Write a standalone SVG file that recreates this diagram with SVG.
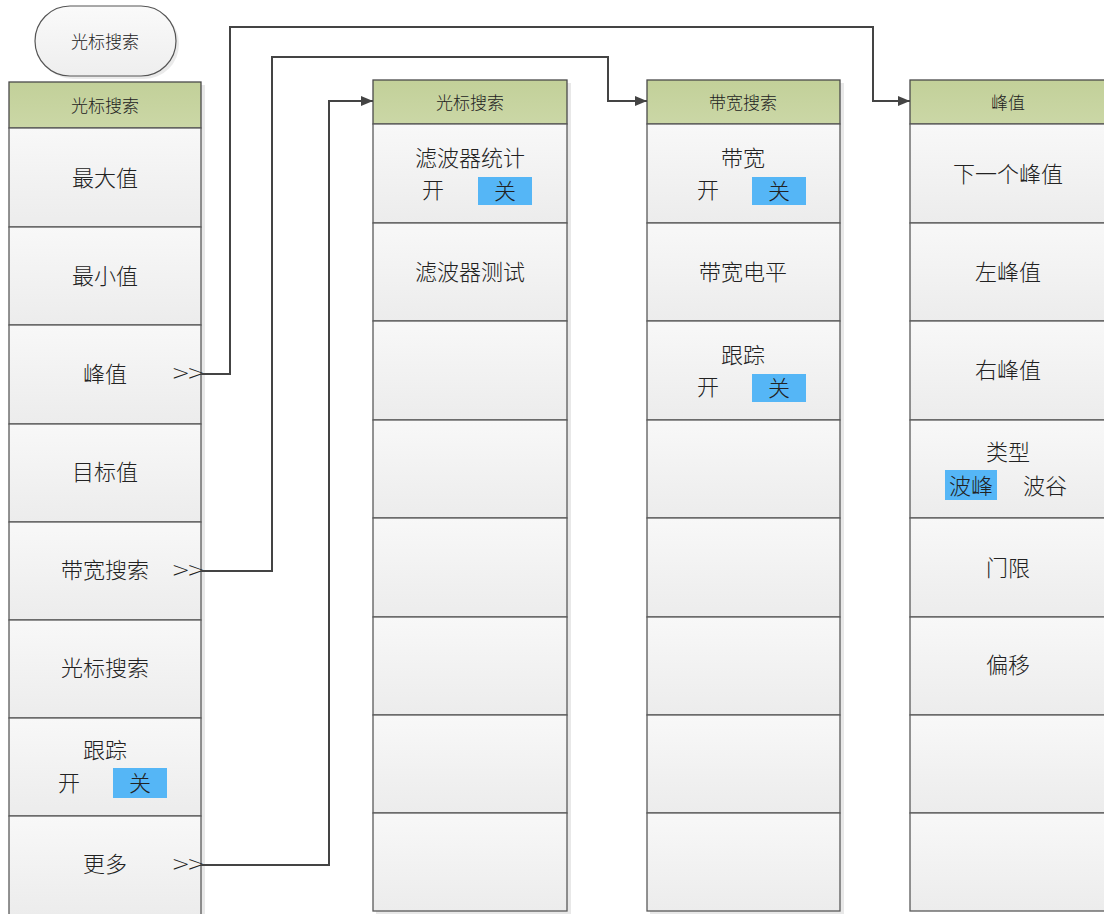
<svg xmlns="http://www.w3.org/2000/svg" width="1104" height="914" viewBox="0 0 1104 914">
<style>
.cell{fill:url(#cg);stroke:#5a5a5a;stroke-width:1.3}
.hdr{fill:url(#hg);stroke:#4a4a4a;stroke-width:1.3}
.t{font-family:"Noto Sans CJK SC","Noto Sans",sans-serif;font-size:22px;font-weight:300;fill:#222;text-anchor:middle;dominant-baseline:central}
.th{font-family:"Noto Sans CJK SC","Noto Sans",sans-serif;font-size:17px;font-weight:300;fill:#222;text-anchor:middle;dominant-baseline:central}
.ar{font-family:"DejaVu Sans",sans-serif;font-size:22px;font-weight:300;fill:#222;text-anchor:middle;dominant-baseline:central;letter-spacing:-3px}
.hl{fill:#55b6f6}
.sh{fill:#d8d8d8;opacity:0.6}
.con{fill:none;stroke:#444;stroke-width:2}
</style>
<defs>
<linearGradient id="cg" x1="0" y1="0" x2="0" y2="1">
<stop offset="0" stop-color="#f8f8f8"/>
<stop offset="1" stop-color="#ececec"/>
</linearGradient>
<linearGradient id="hg" x1="0" y1="0" x2="0" y2="1">
<stop offset="0" stop-color="#c2d099"/>
<stop offset="1" stop-color="#cbd7a6"/>
</linearGradient>
<linearGradient id="eg" x1="0" y1="0" x2="0" y2="1">
<stop offset="0" stop-color="#fafafa"/>
<stop offset="1" stop-color="#eeeeee"/>
</linearGradient>
<marker id="arr" viewBox="0 0 12 10" refX="12" refY="5" markerWidth="12" markerHeight="10" markerUnits="userSpaceOnUse" orient="auto">
<path d="M0,0 L12,5 L0,10 z" fill="#444"/>
</marker>
</defs>
<rect width="1104" height="914" fill="#ffffff"/>

<g id="start">
<rect x="38" y="9" width="141" height="70" rx="35" fill="#dcdcdc" opacity="0.6"/>
<rect x="35" y="6" width="141" height="70" rx="35" fill="url(#eg)" stroke="#555" stroke-width="1.2"/>
<text class="th" x="105" y="40">光标搜索</text>
</g>

<g id="menu1">
<rect class="sh" x="12" y="85" width="193" height="832"/>
<rect class="hdr" x="9" y="82" width="192" height="46"/>
<text class="th" x="105" y="104">光标搜索</text>
<rect class="cell" x="9" y="128" width="192" height="99"/>
<text class="t" x="105" y="176">最大值</text>
<rect class="cell" x="9" y="227" width="192" height="98"/>
<text class="t" x="105" y="274">最小值</text>
<rect class="cell" x="9" y="325" width="192" height="99"/>
<text class="t" x="105" y="372">峰值</text>
<text class="ar" x="187" y="372">&gt;&gt;</text>
<rect class="cell" x="9" y="424" width="192" height="98"/>
<text class="t" x="105" y="470">目标值</text>
<rect class="cell" x="9" y="522" width="192" height="98"/>
<text class="t" x="105" y="568">带宽搜索</text>
<text class="ar" x="187" y="569">&gt;&gt;</text>
<rect class="cell" x="9" y="620" width="192" height="98"/>
<text class="t" x="105" y="666">光标搜索</text>
<rect class="cell" x="9" y="718" width="192" height="98"/>
<text class="t" x="105" y="748">跟踪</text>
<text class="t" x="69" y="781">开</text>
<rect class="hl" x="113" y="768" width="54" height="30"/>
<text class="t" x="140" y="781">关</text>
<rect class="cell" x="9" y="816" width="192" height="100"/>
<text class="t" x="105" y="862">更多</text>
<text class="ar" x="187" y="863">&gt;&gt;</text>
</g>

<g id="menu2">
<rect class="sh" x="376" y="83" width="195" height="831"/>
<rect class="hdr" x="373" y="80" width="194" height="44"/>
<text class="th" x="470" y="101">光标搜索</text>
<rect class="cell" x="373" y="124" width="194" height="99"/>
<text class="t" x="470" y="156">滤波器统计</text>
<text class="t" x="433" y="188">开</text>
<rect class="hl" x="478" y="177" width="54" height="28"/>
<text class="t" x="505" y="189">关</text>
<rect class="cell" x="373" y="223" width="194" height="98"/>
<text class="t" x="470" y="270">滤波器测试</text>
<rect class="cell" x="373" y="321" width="194" height="99"/>
<rect class="cell" x="373" y="420" width="194" height="98"/>
<rect class="cell" x="373" y="518" width="194" height="99"/>
<rect class="cell" x="373" y="617" width="194" height="98"/>
<rect class="cell" x="373" y="715" width="194" height="98"/>
<rect class="cell" x="373" y="813" width="194" height="98"/>
</g>

<g id="menu3">
<rect class="sh" x="650" y="83" width="194" height="831"/>
<rect class="hdr" x="647" y="80" width="193" height="44"/>
<text class="th" x="743" y="101">带宽搜索</text>
<rect class="cell" x="647" y="124" width="193" height="99"/>
<text class="t" x="743" y="156">带宽</text>
<text class="t" x="708" y="188">开</text>
<rect class="hl" x="752" y="177" width="54" height="28"/>
<text class="t" x="779" y="189">关</text>
<rect class="cell" x="647" y="223" width="193" height="98"/>
<text class="t" x="743" y="270">带宽电平</text>
<rect class="cell" x="647" y="321" width="193" height="99"/>
<text class="t" x="743" y="353">跟踪</text>
<text class="t" x="708" y="385">开</text>
<rect class="hl" x="752" y="374" width="54" height="28"/>
<text class="t" x="779" y="386">关</text>
<rect class="cell" x="647" y="420" width="193" height="98"/>
<rect class="cell" x="647" y="518" width="193" height="99"/>
<rect class="cell" x="647" y="617" width="193" height="98"/>
<rect class="cell" x="647" y="715" width="193" height="98"/>
<rect class="cell" x="647" y="813" width="193" height="98"/>
</g>

<g id="menu4">
<rect class="hdr" x="910" y="80" width="200" height="44"/>
<text class="th" x="1008" y="101">峰值</text>
<rect class="cell" x="910" y="124" width="200" height="99"/>
<text class="t" x="1008" y="172">下一个峰值</text>
<rect class="cell" x="910" y="223" width="200" height="98"/>
<text class="t" x="1008" y="270">左峰值</text>
<rect class="cell" x="910" y="321" width="200" height="99"/>
<text class="t" x="1008" y="368">右峰值</text>
<rect class="cell" x="910" y="420" width="200" height="98"/>
<text class="t" x="1008" y="450">类型</text>
<rect class="hl" x="945" y="470" width="52" height="30"/>
<text class="t" x="971" y="484">波峰</text>
<text class="t" x="1045" y="484">波谷</text>
<rect class="cell" x="910" y="518" width="200" height="99"/>
<text class="t" x="1008" y="566">门限</text>
<rect class="cell" x="910" y="617" width="200" height="98"/>
<text class="t" x="1008" y="663">偏移</text>
<rect class="cell" x="910" y="715" width="200" height="98"/>
<rect class="cell" x="910" y="813" width="200" height="98"/>
</g>

<g id="connectors">
<polyline class="con" points="201,374 230,374 230,27 873,27 873,101 910,101" marker-end="url(#arr)"/>
<polyline class="con" points="201,571 272,571 272,57 608,57 608,101 647,101" marker-end="url(#arr)"/>
<polyline class="con" points="201,865 329,865 329,101 373,101" marker-end="url(#arr)"/>
</g>
</svg>
